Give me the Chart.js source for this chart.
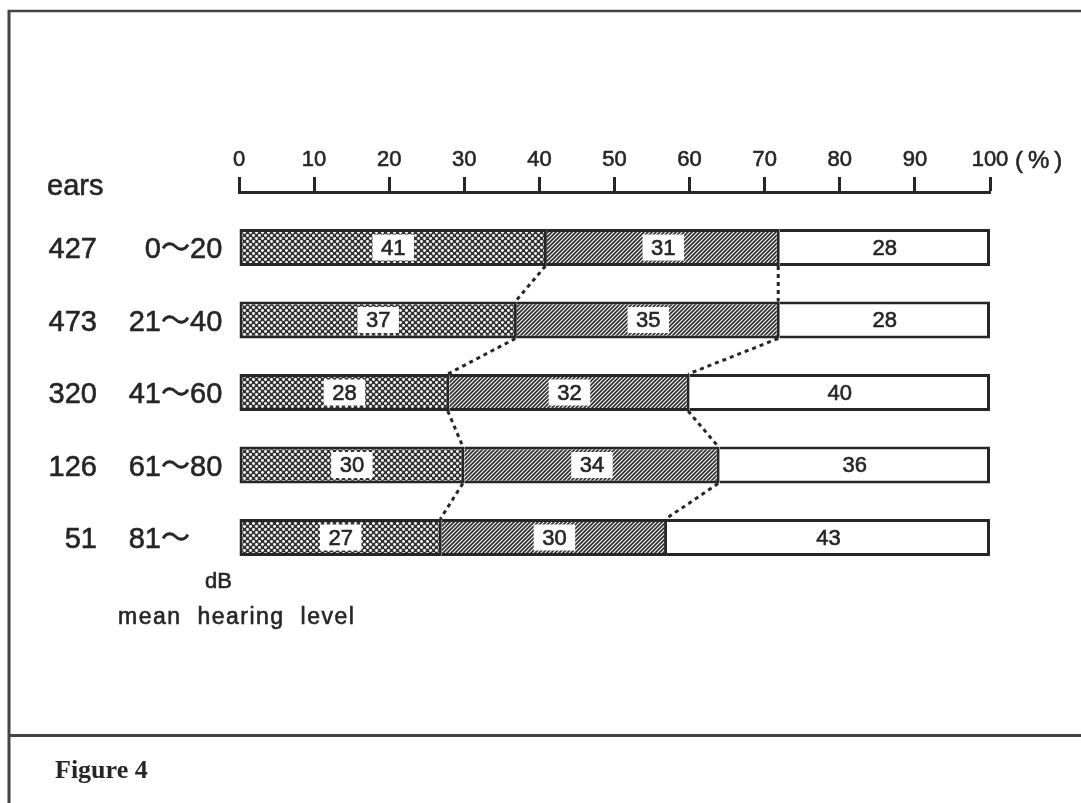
<!DOCTYPE html>
<html><head><meta charset="utf-8">
<script src="https://cdn.jsdelivr.net/npm/chart.js@4.4.1/dist/chart.umd.min.js"></script>
<style>html,body{margin:0;padding:0;background:#fff;}canvas{display:block;}</style>
</head><body>
<canvas id="c" width="1081" height="803"></canvas>
<script>
// ---- data ----
const levels = ['0～20', '21～40', '41～60', '61～80', '81～'];
const ears = [427, 473, 320, 126, 51];
const seg1 = [41, 37, 28, 30, 27];   // cross-hatched
const seg2 = [31, 35, 32, 34, 30];   // diagonal hatched
const seg3 = [28, 28, 40, 36, 43];   // white
const xTicks = [0, 10, 20, 30, 40, 50, 60, 70, 80, 90, 100];
const rowIdx = [0, 1, 2, 3, 4];

const INK = '#262626';
const SANS = '"Liberation Sans", "Noto Sans CJK JP", sans-serif';

function crossPattern() {
  const s = 6;
  const c = document.createElement('canvas'); c.width = s; c.height = s;
  const g = c.getContext('2d');
  g.fillStyle = '#333333'; g.fillRect(0, 0, s, s);
  g.fillStyle = '#ffffff';
  [[1.5, 1.5], [4.5, 4.5]].forEach(([x, y]) => { g.beginPath(); g.arc(x, y, 1.45, 0, Math.PI * 2); g.fill(); });
  return g.createPattern(c, 'repeat');
}
function hatchPattern() {
  const s = 4;
  const c = document.createElement('canvas'); c.width = s; c.height = s;
  const g = c.getContext('2d');
  g.fillStyle = '#ffffff'; g.fillRect(0, 0, s, s);
  g.strokeStyle = '#333333'; g.lineWidth = 1.8;
  g.beginPath();
  g.moveTo(-1, s + 1); g.lineTo(s + 1, -1);
  g.moveTo(-2, 2); g.lineTo(2, -2);
  g.moveTo(s - 2, s + 2); g.lineTo(s + 2, s - 2);
  g.stroke();
  return g.createPattern(c, 'repeat');
}

function txt(ctx, t, x, y) {
  ctx.fillText(t, x, y);
  ctx.strokeText(t, x, y);
}

const decor = {
  id: 'decor',
  beforeDraw(chart) {
    const ctx = chart.ctx;
    ctx.save();
    ctx.fillStyle = '#fff'; ctx.fillRect(0, 0, chart.width, chart.height);
    ctx.strokeStyle = '#444';
    ctx.lineWidth = 3;
    ctx.beginPath(); ctx.moveTo(9, 10); ctx.lineTo(9, 803); ctx.stroke();
    ctx.lineWidth = 2.5;
    ctx.beginPath(); ctx.moveTo(8, 11); ctx.lineTo(1081, 11); ctx.stroke();
    ctx.lineWidth = 3;
    ctx.beginPath(); ctx.moveTo(8, 735.5); ctx.lineTo(1081, 735.5); ctx.stroke();
    ctx.restore();
  },
  afterDatasetsDraw(chart) {
    const ctx = chart.ctx;
    const m = [0, 1, 2].map(i => chart.getDatasetMeta(i));
    ctx.save();
    // dashed connectors between segment boundaries
    ctx.strokeStyle = INK; ctx.lineWidth = 3; ctx.setLineDash([4, 4]);
    [m[0], m[1]].forEach(meta => {
      for (let i = 0; i < meta.data.length - 1; i++) {
        const a = meta.data[i], b = meta.data[i + 1];
        ctx.beginPath();
        ctx.moveTo(a.x - 1.5, a.y + a.height / 2);
        ctx.lineTo(b.x - 1.5, b.y - b.height / 2);
        ctx.stroke();
      }
    });
    ctx.setLineDash([]);
    // value labels
    ctx.font = '22px ' + SANS; ctx.textAlign = 'center'; ctx.textBaseline = 'middle';
    ctx.strokeStyle = INK; ctx.lineWidth = 0.6;
    [[m[0], seg1, true], [m[1], seg2, true], [m[2], seg3, false]].forEach(([meta, vals, box]) => {
      meta.data.forEach((el, i) => {
        const cx = (el.x + el.base) / 2, cy = el.y;
        const t = String(vals[i]);
        if (box) {
          const w = ctx.measureText(t).width + 17;
          ctx.fillStyle = '#fff'; ctx.fillRect(cx - w / 2, cy - 13, w, 26);
        }
        ctx.fillStyle = INK; txt(ctx, t, cx, cy + 1);
      });
    });
    ctx.restore();
  },
  afterDraw(chart) {
    const ctx = chart.ctx, ys = chart.scales.y;
    ctx.save();
    ctx.fillStyle = INK; ctx.strokeStyle = INK; ctx.lineWidth = 0.6;
    ctx.textBaseline = 'alphabetic';
    ctx.font = '29px ' + SANS;
    ctx.textAlign = 'left'; txt(ctx, 'ears', 47, 195);
    rowIdx.forEach(i => {
      const y = ys.getPixelForValue(i) + 10.5;
      ctx.textAlign = 'right'; txt(ctx, String(ears[i]), 97, y);
      const parts = levels[i].split('～');
      txt(ctx, parts[0], 161, y);
      ctx.textAlign = 'left'; txt(ctx, '～' + parts[1], 161, y);
    });
    ctx.font = '24px ' + SANS;
    ctx.letterSpacing = '5px';
    txt(ctx, '(%)', 1015, 168);
    ctx.letterSpacing = '0px';
    ctx.font = '22px ' + SANS;
    txt(ctx, 'dB', 205, 588);
    ctx.font = '23px ' + SANS;
    ctx.letterSpacing = '1.5px'; ctx.wordSpacing = '8px';
    txt(ctx, 'mean hearing level', 118, 624);
    ctx.letterSpacing = '0px'; ctx.wordSpacing = '0px';
    ctx.font = 'bold 26px "Liberation Serif", "Times New Roman", serif';
    ctx.fillText('Figure 4', 55, 778);
    ctx.restore();
  }
};

const sideBorder = { top: 3, right: 3, bottom: 3, left: 0 };
new Chart(document.getElementById('c').getContext('2d'), {
  type: 'bar',
  data: {
    datasets: [
      { label: 'a', data: seg1.map((v, i) => ({ x: v, y: rowIdx[i] })), backgroundColor: crossPattern(), borderColor: INK, borderWidth: 3, borderSkipped: false },
      { label: 'b', data: seg2.map((v, i) => ({ x: v, y: rowIdx[i] })), backgroundColor: hatchPattern(), borderColor: INK, borderWidth: sideBorder, borderSkipped: false },
      { label: 'c', data: seg3.map((v, i) => ({ x: v, y: rowIdx[i] })), backgroundColor: '#ffffff', borderColor: INK, borderWidth: sideBorder, borderSkipped: false }
    ]
  },
  options: {
    indexAxis: 'y',
    responsive: false, animation: false, events: [],
    layout: { padding: { left: 239, right: 91, top: 132, bottom: 222 } },
    plugins: { legend: { display: false }, tooltip: { enabled: false } },
    datasets: { bar: { categoryPercentage: 1, barPercentage: 0.51 } },
    scales: {
      x: {
        type: 'linear', position: 'top', stacked: true, min: 0, max: 100,
        afterBuildTicks: s => { s.ticks = xTicks.map(v => ({ value: v })); },
        afterFit: s => { s.height = 60; },
        ticks: { font: { size: 22, family: SANS }, color: INK, padding: 4, maxRotation: 0, autoSkip: false, textStrokeColor: INK, textStrokeWidth: 0.6 },
        grid: { drawOnChartArea: false, tickLength: 15, tickWidth: 3, tickColor: INK, color: INK },
        border: { display: true, width: 3, color: INK }
      },
      y: {
        type: 'linear', reverse: true, stacked: true, offset: false, min: -0.766, max: 4.6, display: false,
        grid: { offset: false },
        afterBuildTicks: s => { s.ticks = rowIdx.map(v => ({ value: v })); }
      }
    }
  },
  plugins: [decor]
});
</script>
</body></html>
